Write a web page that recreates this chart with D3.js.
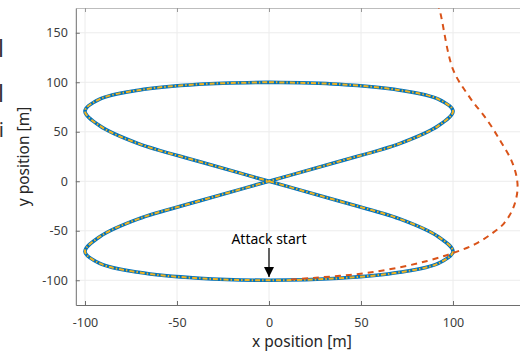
<!DOCTYPE html>
<html>
<head>
<meta charset="utf-8">
<script src="https://cdn.jsdelivr.net/npm/d3@7"></script>
<style>
  body { margin: 0; background: #fff; }
  svg { display: block; }
  text { font-family: "Noto Sans", "Open Sans", sans-serif; }
</style>
</head>
<body>
<div id="chart"></div>
<script>
// reference path (figure eight)
const refX = [0, 38, 71, 92, 100, 92, 71, 38, 0, -38, -71, -92, -100, -92, -71, -38,
              0, 38, 71, 92, 100, 92, 71, 38, 0, -38, -71, -92, -100, -92, -71, -38, 0];
const refY = [100, 98, 92, 83, 71, 56, 38, 20, 0, -20, -38, -56, -71, -83, -92, -98,
              -100, -98, -92, -83, -71, -56, -38, -20, 0, 20, 38, 56, 71, 83, 92, 98, 100];

// path after the attack
const atkX = [0, 12, 24, 38.6, 53, 69.5, 86, 100, 112, 121, 127.5, 132.5, 135, 134.5, 131.5, 126, 118.5, 109, 100, 92.4, 90];
const atkY = [-100, -99.3, -97.6, -95.5, -92.6, -87.5, -80.5, -72.5, -63.5, -53, -43, -28, -10, 5, 22, 40, 62, 85, 113, 175, 185];

const xTicks = [-100, -50, 0, 50, 100];
const yTicks = [-100, -50, 0, 50, 100, 150];

const width = 520, height = 351;

const svg = d3.select('#chart').append('svg')
  .attr('width', width)
  .attr('height', height);

const x = d3.scaleLinear().domain([-105, 150]).range([75.8, 545]);
const y = d3.scaleLinear().domain([-125, 175]).range([305, 8]);

svg.append('clipPath').attr('id', 'plotclip')
  .append('rect')
  .attr('x', x(-105)).attr('y', y(175))
  .attr('width', x(150) - x(-105)).attr('height', y(-125) - y(175));

// grid
const grid = svg.append('g');
grid.selectAll('.gx').data(xTicks).enter().append('line')
  .attr('x1', d => x(d)).attr('x2', d => x(d))
  .attr('y1', y(175)).attr('y2', y(-125))
  .attr('stroke', '#ececec').attr('stroke-width', 1);
grid.selectAll('.gy').data(yTicks).enter().append('line')
  .attr('x1', x(-105)).attr('x2', x(150))
  .attr('y1', d => y(d)).attr('y2', d => y(d))
  .attr('stroke', '#ececec').attr('stroke-width', 1);

// axes (ticks drawn inward)
const gx = svg.append('g')
  .attr('transform', 'translate(0,' + y(-125) + ')')
  .call(d3.axisBottom(x).tickValues(xTicks).tickSizeInner(-4).tickSizeOuter(0).tickPadding(13));
const gxTop = svg.append('g')
  .attr('transform', 'translate(0,' + y(175) + ')')
  .call(d3.axisTop(x).tickValues(xTicks).tickSizeInner(-4).tickSizeOuter(0).tickFormat(''));
const gy = svg.append('g')
  .attr('transform', 'translate(' + x(-105) + ',0)')
  .call(d3.axisLeft(y).tickValues(yTicks).tickSizeInner(-4).tickSizeOuter(0).tickPadding(8));

[gx, gy].forEach(g => {
  g.select('.domain').attr('stroke', '#6e6e6e');
  g.selectAll('.tick line').attr('stroke', '#6e6e6e');
  g.selectAll('.tick text')
    .attr('fill', '#3c3c3c')
    .style('font-size', '12.5px')
    .text(d => d < 0 ? '-' + Math.abs(d) : d);
});
gxTop.select('.domain').attr('stroke', '#bdbdbd');
gxTop.selectAll('.tick line').attr('stroke', '#9a9a9a');

svg.append('text')
  .attr('x', 302).attr('y', 347)
  .attr('text-anchor', 'middle')
  .attr('fill', '#262626')
  .style('font-size', '15.5px')
  .text('x position [m]');

svg.append('text')
  .attr('transform', 'translate(29,' + ((y(175) + y(-125)) / 2) + ') rotate(-90)')
  .attr('text-anchor', 'middle')
  .attr('fill', '#262626')
  .style('font-size', '15.5px')
  .text('y position [m]');

// lines
const plot = svg.append('g').attr('clip-path', 'url(#plotclip)');

const refPts = refX.map((d, i) => [d, refY[i]]);
const atkPts = atkX.map((d, i) => [d, atkY[i]]);

const line = d3.line()
  .x(d => x(d[0]))
  .y(d => y(d[1]))
  .curve(d3.curveCatmullRom.alpha(0.5));

plot.append('path').datum(refPts)
  .attr('d', line)
  .attr('fill', 'none')
  .attr('stroke', '#0072BD')
  .attr('stroke-width', 3.6);

plot.append('path').datum(refPts)
  .attr('d', line)
  .attr('fill', 'none')
  .attr('stroke', '#EDB120')
  .attr('stroke-width', 2)
  .attr('stroke-dasharray', '5,2,1.5,2');

plot.append('path').datum(atkPts.slice(1))
  .attr('d', line)
  .attr('fill', 'none')
  .attr('stroke', '#D95319')
  .attr('stroke-width', 2)
  .attr('stroke-dasharray', '6,5');

// annotation
svg.append('defs').append('marker')
  .attr('id', 'head')
  .attr('viewBox', '0 0 10 10')
  .attr('refX', 10).attr('refY', 5)
  .attr('markerWidth', 10).attr('markerHeight', 10)
  .attr('markerUnits', 'userSpaceOnUse')
  .attr('orient', 'auto')
  .append('path')
  .attr('d', 'M0,0 L10,5 L0,10 z')
  .attr('fill', '#000');

svg.append('line')
  .attr('x1', x(0)).attr('x2', x(0))
  .attr('y1', y(-67.5)).attr('y2', y(-96.7))
  .attr('stroke', '#000').attr('stroke-width', 1.2)
  .attr('marker-end', 'url(#head)');

svg.append('text')
  .attr('x', x(0)).attr('y', y(-63))
  .attr('text-anchor', 'middle')
  .attr('fill', '#000')
  .style('font-size', '14px')
  .text('Attack start');

// letters of a neighbouring panel cut at the left edge
const edge = svg.append('g').attr('fill', '#333').attr('text-anchor', 'end');
edge.append('text').attr('x', 4).attr('y', 57).style('font-size', '23px').text('l');
edge.append('text').attr('x', 4).attr('y', 102).style('font-size', '23px').text('l');
edge.append('text').attr('x', 4).attr('y', 137).style('font-size', '20px').text('i');
</script>
</body>
</html>
